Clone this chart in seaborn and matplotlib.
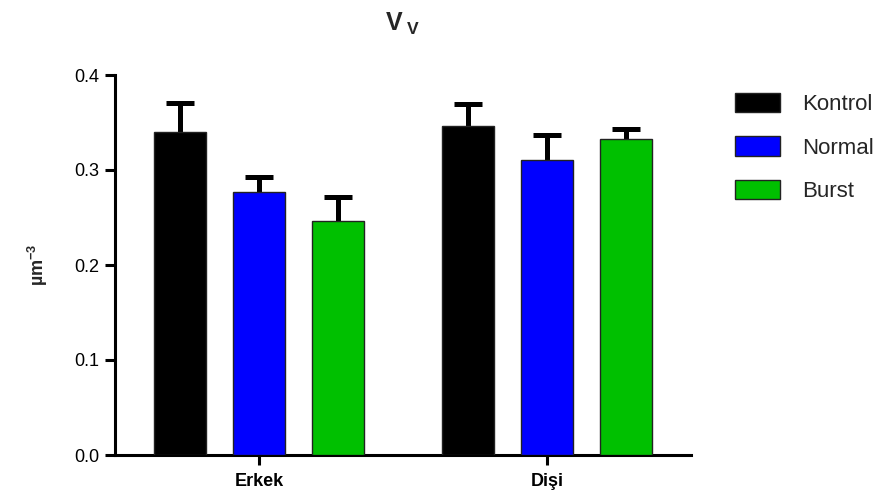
import numpy as np
import pandas as pd
import matplotlib
matplotlib.use("Agg")
import matplotlib.pyplot as plt
import seaborn as sns

# ---- data ----
groups = ["Erkek", "Dişi"]
series = ["Kontrol", "Normal", "Burst"]
kontrol_mean = [0.340, 0.346]
normal_mean = [0.2765, 0.3105]
burst_mean = [0.2466, 0.3323]
kontrol_err = [0.031, 0.023]
normal_err = [0.0165, 0.0265]
burst_err = [0.025, 0.0105]
colors = ["#000000", "#0000FF", "#00C000"]
title_text = r"V$_{\;V}$"
ylabel_text = "µm$^{-3}$"
yticks = [0.0, 0.1, 0.2, 0.3, 0.4]

sns.set_style("ticks")
plt.rcParams["font.family"] = ["Liberation Sans", "DejaVu Sans"]
plt.rcParams["mathtext.fontset"] = "custom"
plt.rcParams["mathtext.rm"] = "Liberation Sans"
plt.rcParams["mathtext.bf"] = "Liberation Sans:bold"
plt.rcParams["mathtext.default"] = "bf"

means = [kontrol_mean, normal_mean, burst_mean]
errs = [kontrol_err, normal_err, burst_err]
rows = []
for s, m in zip(series, means):
    for g, v in zip(groups, m):
        rows.append({"group": g, "series": s, "value": v})
df = pd.DataFrame(rows)

fig = plt.figure(figsize=(8.93, 5.04), dpi=100)
ax = fig.add_axes([115 / 893, 49 / 504, (691 - 115) / 893, (455 - 75) / 504])

sns.barplot(data=df, x="group", y="value", hue="series", order=groups,
            hue_order=series, palette=colors, saturation=1, width=0.823,
            gap=0.342, errorbar=None, edgecolor="#222222", linewidth=1.0,
            ax=ax, zorder=3)

# error bars (upper only) at the bar centres drawn by seaborn
for cont, e in zip(ax.containers, errs):
    xs = [p.get_x() + p.get_width() / 2 for p in cont.patches]
    ys = [p.get_height() for p in cont.patches]
    _, caps, _ = ax.errorbar(xs, ys, yerr=[np.zeros(len(e)), e], fmt="none",
                             ecolor="black", elinewidth=3.6, capsize=10,
                             capthick=3.6, zorder=2)
    caps[0].set_visible(False)

ax.set_xlim(-0.5, 1.5)
ax.set_ylim(0, 0.4)
ax.set_yticks(yticks)
ax.set_yticklabels([f"{t:.1f}" for t in yticks])
ax.set_xlabel("")
ax.set_ylabel(ylabel_text, fontsize=13, fontweight="bold", labelpad=18)
ax.set_title(title_text, fontsize=18, fontweight="bold", pad=32)

for side in ["top", "right"]:
    ax.spines[side].set_visible(False)
for side in ["left", "bottom"]:
    ax.spines[side].set_linewidth(2.2)
    ax.spines[side].set_color("black")
ax.tick_params(axis="y", length=7, width=2.2, labelsize=13, pad=4, colors="black")
ax.tick_params(axis="x", length=7, width=2.2, labelsize=13, pad=6, colors="black")
for lbl in ax.get_xticklabels():
    lbl.set_fontweight("bold")

ax.legend_.remove()
handles = [plt.Rectangle((0, 0), 1, 1, facecolor=c, edgecolor="#222222", linewidth=1.0)
           for c in colors]
fig.legend(handles, series, loc="upper left",
           bbox_to_anchor=(724 / 893, (504 - 82) / 504), frameon=False,
           fontsize=16, handlelength=2.0, handleheight=0.95, labelspacing=0.95,
           handletextpad=1.0, borderpad=0.0)

fig.savefig("out.png", dpi=100)
